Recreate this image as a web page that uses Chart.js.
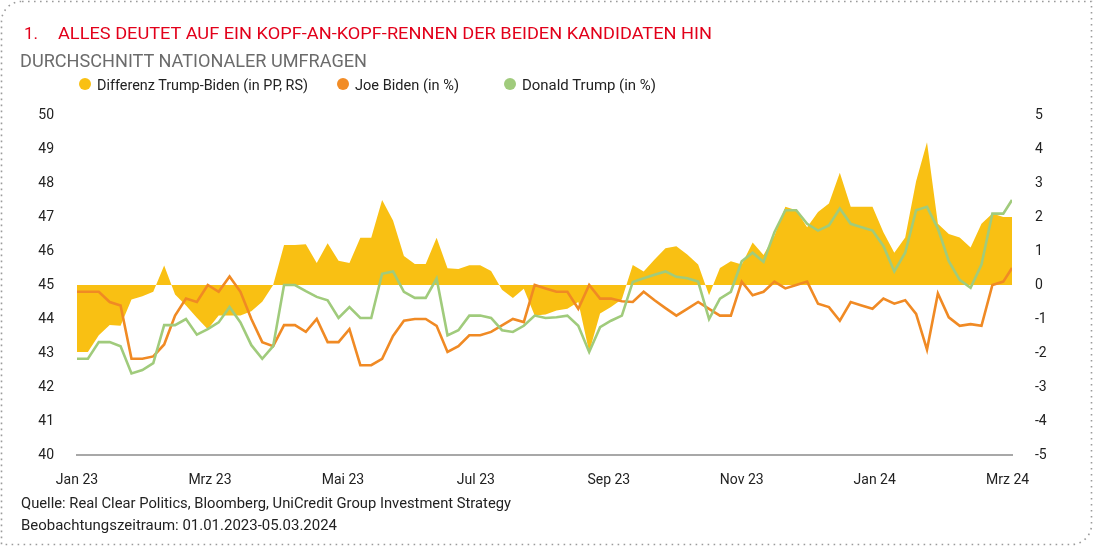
<!DOCTYPE html>
<html>
<head>
<meta charset="utf-8">
<script src="https://cdn.jsdelivr.net/npm/chart.js@4.4.1/dist/chart.umd.min.js"></script>
<style>
  html, body { margin: 0; padding: 0; background: #fff; }
  #wrap { position: relative; width: 1093px; height: 546px; overflow: hidden; font-family: Roboto, "Open Sans", sans-serif; }
  #chart { position: absolute; left: 0; top: 0; }
  #frame { position: absolute; left: 0; top: 0; }
  .t { position: absolute; white-space: nowrap; line-height: 1; transform-origin: left center; }
  .dot { position: absolute; width: 12px; height: 12px; border-radius: 50%; }
</style>
</head>
<body>
<div id="wrap">
  <svg id="frame" width="1093" height="546">
    <path d="M 22 1.5 H 1091.5 V 524 A 20 20 0 0 1 1071.5 544.5 H 1.5 V 21.5 A 20 20 0 0 1 22 1.5 Z"
          fill="none" stroke="#9b9b9b" stroke-width="1.6" stroke-dasharray="1.6 4.4"/>
  </svg>
  <canvas id="chart" width="1093" height="546"></canvas>

  <div class="t" style="left:24px; top:24.5px; font-size:17px; color:#e2001a;">1.</div>
  <div class="t" data-w="654" style="left:58px; top:24.5px; font-size:17px; color:#e2001a;">ALLES DEUTET AUF EIN KOPF-AN-KOPF-RENNEN DER BEIDEN KANDIDATEN HIN</div>
  <div class="t" data-w="347" style="left:20px; top:52px; font-size:18.5px; color:#6b6b6b;">DURCHSCHNITT NATIONALER UMFRAGEN</div>

  <div class="dot" style="left:79px; top:78px; background:#f9c013;"></div>
  <div class="t" data-w="211" style="left:97px; top:77.5px; font-size:14px; color:#222;">Differenz Trump-Biden (in PP, RS)</div>
  <div class="dot" style="left:337px; top:78px; background:#f28c26;"></div>
  <div class="t" data-w="104" style="left:355px; top:77.5px; font-size:14px; color:#222;">Joe Biden (in %)</div>
  <div class="dot" style="left:504px; top:78px; background:#a0cb7c;"></div>
  <div class="t" data-w="134" style="left:522px; top:77.5px; font-size:14px; color:#222;">Donald Trump (in %)</div>

  <div class="t" data-w="490" style="left:21px; top:496px; font-size:14px; color:#222;">Quelle: Real Clear Politics, Bloomberg, UniCredit Group Investment Strategy</div>
  <div class="t" data-w="316" style="left:21px; top:518px; font-size:14px; color:#222;">Beobachtungszeitraum: 01.01.2023-05.03.2024</div>
</div>

<script>
// Tage seit 01.01.2023
const days = [0,5,10,15,20,25,30,35,40,45,50,55,60,65,70,75,80,85,90,95,100,105,110,115,120,125,130,135,140,145,
  150,155,160,165,170,175,180,185,190,195,200,205,210,215,220,225,230,235,240,245,250,255,260,265,270,275,280,285,290,295,
  300,305,310,315,320,325,330,335,340,345,350,355,360,365,370,375,380,385,390,395,400,405,410,415,420,425,429];

const bidenValues = [44.8,44.8,44.8,44.5,44.4,42.83,42.83,42.9,43.25,44.1,
  44.6,44.5,45.0,44.8,45.25,44.8,44.0,43.32,43.2,43.82,
  43.82,43.62,44.0,43.32,43.32,43.7,42.64,42.64,42.83,43.5,
  43.95,44.0,44.0,43.8,43.03,43.2,43.52,43.52,43.62,43.81,
  44.0,43.91,45.0,44.9,44.8,44.8,44.3,45.0,44.6,44.6,
  44.52,44.5,44.8,44.55,44.32,44.1,44.3,44.5,44.3,44.1,
  44.1,45.1,44.7,44.8,45.1,44.9,45.0,45.1,44.45,44.35,
  43.95,44.5,44.4,44.3,44.6,44.45,44.55,44.15,43.1,44.75,
  44.05,43.8,43.85,43.8,45.0,45.1,45.5];

const trumpValues = [42.83,42.83,43.32,43.32,43.2,42.4,42.5,42.7,43.82,43.82,
  44.0,43.54,43.7,43.9,44.35,43.9,43.23,42.83,43.2,45.0,
  45.0,44.82,44.65,44.55,44.03,44.35,44.03,44.03,45.33,45.4,
  44.8,44.62,44.62,45.19,43.52,43.67,44.1,44.1,44.03,43.67,
  43.62,43.8,44.1,44.03,44.05,44.1,43.8,43.03,43.76,43.95,
  44.1,45.09,45.2,45.3,45.4,45.24,45.2,45.1,44.0,44.6,
  44.8,45.7,45.95,45.68,46.55,47.2,47.2,46.8,46.6,46.75,
  47.25,46.8,46.7,46.6,46.15,45.4,45.95,47.2,47.3,46.66,
  45.7,45.15,44.92,45.6,47.1,47.1,47.5];

const diffValues = [-1.97,-1.97,-1.48,-1.18,-1.2,-0.43,-0.33,-0.2,0.57,-0.28,
  -0.6,-0.96,-1.3,-0.9,-0.9,-0.9,-0.77,-0.49,0,1.18,
  1.18,1.2,0.65,1.23,0.71,0.65,1.39,1.39,2.5,1.9,
  0.85,0.62,0.62,1.39,0.49,0.47,0.58,0.58,0.41,-0.14,
  -0.38,-0.11,-0.9,-0.87,-0.75,-0.7,-0.5,-1.97,-0.84,-0.65,
  -0.42,0.59,0.4,0.75,1.08,1.14,0.9,0.6,-0.3,0.5,
  0.7,0.6,1.25,0.88,1.45,2.3,2.2,1.7,2.15,2.4,
  3.3,2.3,2.3,2.3,1.55,0.95,1.4,3.05,4.2,1.8,
  1.5,1.4,1.1,1.8,2.1,2.0,2.0];

const tickDays = [0, 61, 122, 183, 244, 305, 366, 427];
const tickLabels = ['Jan 23', 'Mrz 23', 'Mai 23', 'Jul 23', 'Sep 23', 'Nov 23', 'Jan 24', 'Mrz 24'];

function pts(vals) {
    return days.map((d, i) => ({ x: d, y: vals[i] }));
}

const tickFont = { family: 'Roboto', size: 14 };

new Chart(document.getElementById('chart'), {
    type: 'line',
    data: {
        datasets: [{
            label: 'Differenz Trump-Biden (in PP, RS)',
            data: pts(diffValues),
            yAxisID: 'y1',
            borderWidth: 0,
            backgroundColor: '#f9c013',
            fill: 'origin',
            pointRadius: 0,
            tension: 0,
            order: 3
        }, {
            label: 'Joe Biden (in %)',
            data: pts(bidenValues),
            yAxisID: 'y',
            borderColor: '#f08a24',
            borderWidth: 2.6,
            pointRadius: 0,
            tension: 0,
            fill: false,
            order: 2
        }, {
            label: 'Donald Trump (in %)',
            data: pts(trumpValues),
            yAxisID: 'y',
            borderColor: '#a0cb7c',
            borderWidth: 2.6,
            pointRadius: 0,
            tension: 0,
            fill: false,
            order: 1
        }]
    },
    options: {
        responsive: false,
        animation: false,
        devicePixelRatio: 1,
        layout: { padding: { top: 115, bottom: 0, left: 0, right: 0 } },
        plugins: { legend: { display: false }, tooltip: { enabled: false } },
        scales: {
            x: {
                type: 'linear',
                min: 0,
                max: 429,
                afterBuildTicks: s => { s.ticks = tickDays.map(v => ({ value: v })); },
                afterFit: s => { s.height = 91; },
                ticks: {
                    autoSkip: false,
                    maxRotation: 0,
                    padding: 9,
                    color: '#222',
                    font: tickFont,
                    callback: v => tickLabels[tickDays.indexOf(v)]
                },
                grid: { display: false },
                border: { display: true, color: '#a8a8a8', width: 2 }
            },
            y: {
                position: 'left',
                min: 40,
                max: 50,
                afterFit: s => { s.width = 77; },
                ticks: { stepSize: 1, padding: 15, color: '#222', font: tickFont },
                grid: { display: false },
                border: { display: false }
            },
            y1: {
                position: 'right',
                min: -5,
                max: 5,
                afterFit: s => { s.width = 81; },
                ticks: { stepSize: 1, padding: 15, color: '#222', font: tickFont },
                grid: { display: false },
                border: { display: false }
            }
        }
    }
});

// Texte auf die Breite der Vorlage bringen
document.fonts.ready.then(function () {
    document.querySelectorAll('[data-w]').forEach(function (el) {
        const w = el.getBoundingClientRect().width;
        el.style.transform = 'scaleX(' + (el.dataset.w / w) + ')';
    });
});
</script>
</body>
</html>
